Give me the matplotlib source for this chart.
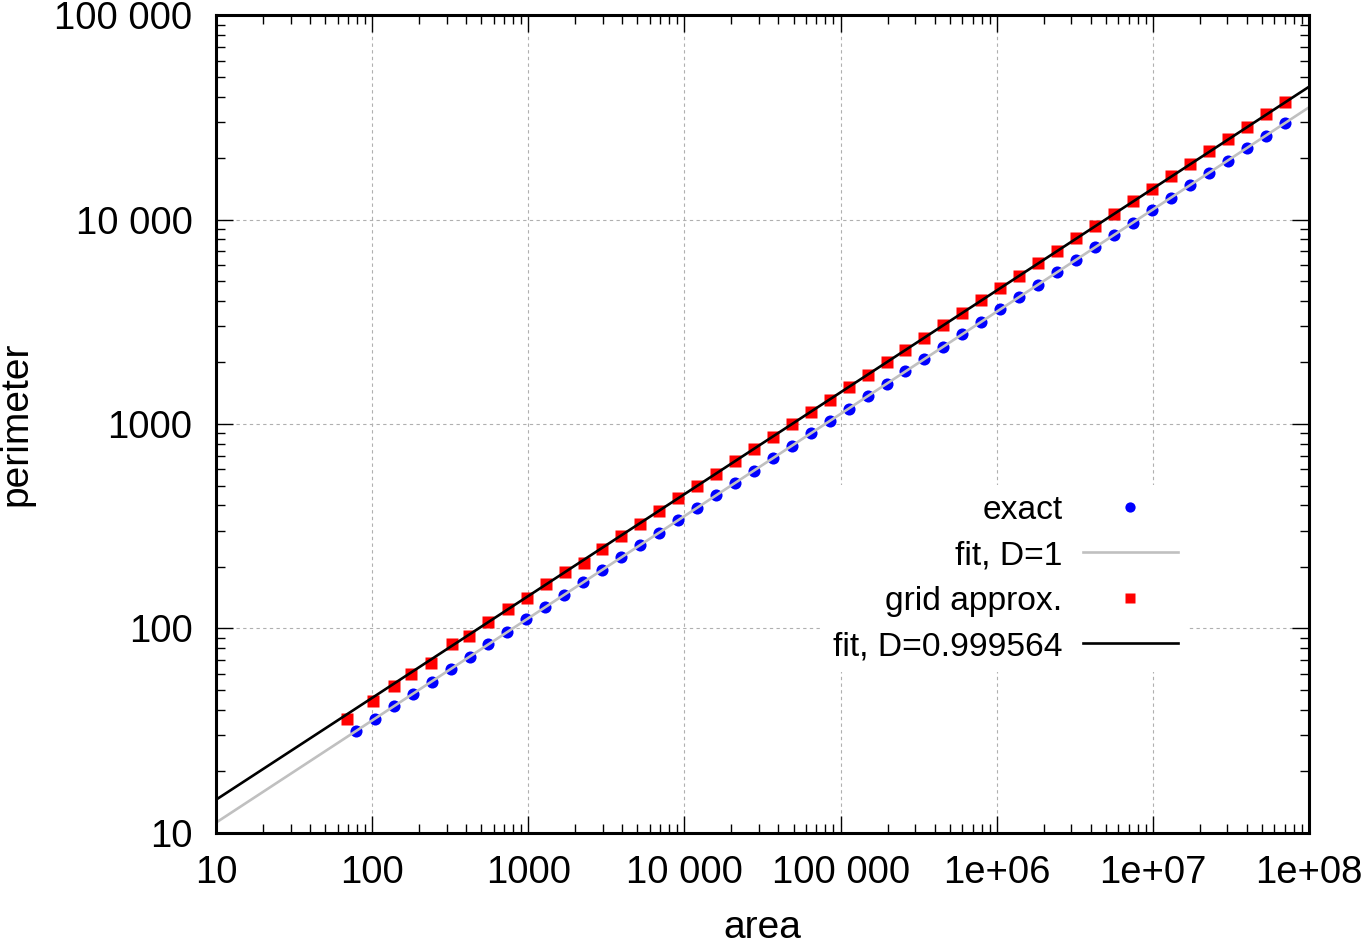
import matplotlib
matplotlib.use('Agg')
import matplotlib.pyplot as plt
from matplotlib.ticker import LogLocator, NullFormatter

plt.rcParams['font.family'] = ['Liberation Sans', 'DejaVu Sans']

# exact circle: area vs perimeter
exact_area = [78.5, 103.9, 137.4, 181.7, 240.3, 317.7, 420.2, 555.7, 735.0, 971.9,
              1285, 1700, 2248, 2973, 3932, 5200, 6877, 9095, 12028, 15907,
              21038, 27822, 36795, 48661, 64354, 85110, 112560, 148857, 196868, 260352,
              344319, 455367, 602213, 796400, 1053200, 1393000, 1842000, 2436000, 3222000, 4261000,
              5635000, 7452000, 9856000, 13034000, 17238000, 22797000, 30149000, 39872000, 52730000, 69736000]
exact_perimeter = [31.4, 36.1, 41.5, 47.8, 54.9, 63.2, 72.7, 83.6, 96.1, 110.5,
                   127.1, 146.2, 168.1, 193.3, 222.3, 255.6, 294.0, 338.1, 388.8, 447.1,
                   514.2, 591.3, 680.0, 782.0, 899.3, 1034, 1189, 1368, 1573, 1809,
                   2080, 2392, 2751, 3164, 3638, 4184, 4811, 5533, 6363, 7317,
                   8415, 9677, 11129, 12798, 14718, 16926, 19465, 22384, 25742, 29603]

# grid approximation
grid_area = [69, 101, 137, 177, 239, 324, 420, 554, 745, 975,
             1291, 1710, 2261, 2969, 3929, 5209, 6873, 9089, 12021, 15917,
             21029, 27813, 36801, 48657, 64349, 85117, 112553, 148861, 196873, 260349,
             344321, 455361, 602217, 796397, 1053201, 1392997, 1842001, 2436003, 3221997, 4261001,
             5635001, 7451997, 9856001, 13034001, 17237997, 22797001, 30149001, 39871997, 52730001, 69736001]
grid_perimeter = [36, 44, 52, 60, 68, 84, 92, 108, 124, 140,
                  164, 188, 208, 244, 284, 324, 376, 432, 496, 568,
                  656, 752, 864, 996, 1144, 1316, 1512, 1740, 2004, 2304,
                  2648, 3044, 3504, 4028, 4632, 5328, 6124, 7044, 8100, 9316,
                  10716, 12320, 14168, 16296, 18740, 21552, 24784, 28500, 32776, 37692]

# fitted lines (end points at the plot edges)
fit_area = [10, 1e8]
fit1_perimeter = [11.2, 35450]
fit2_perimeter = [14.5, 44700]

x_ticks = [10, 100, 1000, 1e4, 1e5, 1e6, 1e7, 1e8]
x_tick_labels = ['10', '100', '1000', '10 000', '100 000', '1e+06', '1e+07', '1e+08']
y_ticks = [10, 100, 1000, 1e4, 1e5]
y_tick_labels = ['10', '100', '1000', '10 000', '100 000']

fig = plt.figure(figsize=(13.62, 9.44), dpi=100)
ax = fig.add_axes([0.1586, 0.1179, 0.8025, 0.8659])
ax.set_xscale('log')
ax.set_yscale('log')

ax.plot(exact_area, exact_perimeter, 'o', color='#0000ff', ms=8.7, mec='none', label='exact')
ax.plot(fit_area, fit1_perimeter, '-', color='#c0c0c0', lw=1.9, label='fit, D=1')
ax.plot(grid_area, grid_perimeter, 's', color='#ff0000', ms=8, mec='none', label='grid approx.')
ax.plot(fit_area, fit2_perimeter, '-', color='black', lw=1.9, label='fit, D=0.999564')

ax.set_xlim(10, 1e8)
ax.set_ylim(10, 1e5)
ax.set_xticks(x_ticks)
ax.set_xticklabels(x_tick_labels)
ax.set_yticks(y_ticks)
ax.set_yticklabels(y_tick_labels)
ax.xaxis.set_minor_locator(LogLocator(base=10, subs=range(2, 10), numticks=20))
ax.yaxis.set_minor_locator(LogLocator(base=10, subs=range(2, 10), numticks=20))
ax.xaxis.set_minor_formatter(NullFormatter())
ax.yaxis.set_minor_formatter(NullFormatter())
ax.tick_params(which='both', direction='in', top=True, right=True, width=1, colors='black')
ax.tick_params(which='major', length=12, labelsize=27.5)
ax.tick_params(axis='x', which='major', pad=16)
ax.tick_params(axis='y', which='major', pad=17)
ax.tick_params(which='minor', length=6.5)

ax.grid(True, which='major', linestyle=(0, (3, 3)), color='#b0b0b0', lw=0.8)
for s in ax.spines.values():
    s.set_linewidth(2.2)

ax.set_xlabel('area', fontsize=28, labelpad=14)
ax.set_ylabel('perimeter', fontsize=28, labelpad=14)

leg = ax.legend(loc='center right', bbox_to_anchor=(0.905, 0.311), markerfirst=False,
                fontsize=24.2, handlelength=2.85, handletextpad=0.6, labelspacing=0.43,
                fancybox=False, numpoints=1, markerscale=0.85, borderpad=0.3)
leg.get_frame().set_edgecolor('none')
leg.get_frame().set_facecolor('white')
leg.get_frame().set_alpha(1)

fig.savefig('out.png', dpi=100)
